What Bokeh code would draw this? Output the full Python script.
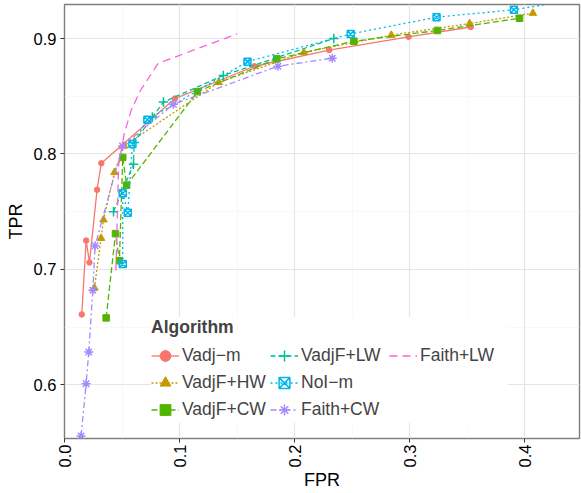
from bokeh.plotting import figure
from bokeh.models import Range1d, SingleIntervalTicker, Legend, LegendItem, PrintfTickFormatter
from bokeh.embed import file_html
from bokeh.resources import INLINE
import math

FONT = "Liberation Sans"

# ---- data ----
algorithms = ["Vadj\u2212m", "VadjF+HW", "VadjF+CW", "VadjF+LW", "NoI\u2212m", "Faith+CW", "Faith+LW"]

vadj_m_fpr = [0.015, 0.0188, 0.0217, 0.0283, 0.032, 0.096, 0.165, 0.230, 0.299, 0.353]
vadj_m_tpr = [0.661, 0.725, 0.706, 0.769, 0.792, 0.848, 0.876, 0.890, 0.9015, 0.910]

vadjf_hw_fpr = [0.026, 0.0318, 0.0339, 0.0434, 0.0518, 0.134, 0.208, 0.284, 0.352, 0.407]
vadjf_hw_tpr = [0.684, 0.727, 0.743, 0.784, 0.807, 0.862, 0.888, 0.903, 0.913, 0.922]

vadjf_cw_fpr = [0.0362, 0.0443, 0.0477, 0.0506, 0.054, 0.1155, 0.1844, 0.2515, 0.324, 0.3954]
vadjf_cw_tpr = [0.658, 0.731, 0.7075, 0.797, 0.773, 0.854, 0.8824, 0.8977, 0.907, 0.9176]

vadjf_lw_fpr = [0.0426, 0.060, 0.0605, 0.0764, 0.086, 0.138, 0.234]
vadjf_lw_tpr = [0.750, 0.791, 0.810, 0.832, 0.845, 0.868, 0.900]

noi_m_fpr = [0.0506, 0.0506, 0.055, 0.059, 0.072, 0.159, 0.2487, 0.3233, 0.3905, 0.46]
noi_m_tpr = [0.7046, 0.766, 0.749, 0.8087, 0.8297, 0.880, 0.904, 0.9185, 0.925, 0.936]

faith_cw_fpr = [0.0144, 0.0188, 0.0211, 0.0246, 0.0266, 0.0504, 0.0946, 0.1855, 0.2327]
faith_cw_tpr = [0.5557, 0.601, 0.6285, 0.682, 0.7205, 0.807, 0.843, 0.876, 0.883]

faith_lw_fpr = [0.0447, 0.047, 0.052, 0.058, 0.066, 0.081, 0.088, 0.150]
faith_lw_tpr = [0.699, 0.790, 0.818, 0.838, 0.855, 0.878, 0.881, 0.904]

x_ticks = [0.0, 0.1, 0.2, 0.3, 0.4]
y_ticks = [0.6, 0.7, 0.8, 0.9]

series = [
    (vadj_m_fpr, vadj_m_tpr, "#F8766D", "solid", "circle", 5.5),
    (vadjf_hw_fpr, vadjf_hw_tpr, "#C49A00", "2 2", "triangle", 7.5),
    (vadjf_cw_fpr, vadjf_cw_tpr, "#53B400", "6 3", "square", 6.5),
    (vadjf_lw_fpr, vadjf_lw_tpr, "#00C094", "5 3", "cross", 9.5),
    (noi_m_fpr, noi_m_tpr, "#00B6EB", "2 3", "square_x", 7),
    (faith_cw_fpr, faith_cw_tpr, "#A58AFF", "6 3 2 3", "asterisk", 9),
    (faith_lw_fpr, faith_lw_tpr, "#FB61D7", "8 5", None, 0),
]

p = figure(width=581, height=493, output_backend="svg", toolbar_location=None,
           x_range=Range1d(0.0, 0.4475), y_range=Range1d(0.5535, 0.9295),
           min_border_left=64, min_border_right=2, min_border_top=4, min_border_bottom=55)

p.background_fill_color = "white"
p.border_fill_color = "white"
p.outline_line_color = "#7F7F7F"
p.outline_line_width = 1.4

xt = SingleIntervalTicker(interval=0.1, num_minor_ticks=2)
yt = SingleIntervalTicker(interval=0.1, num_minor_ticks=2)
p.xaxis.ticker = xt
p.yaxis.ticker = yt
p.xgrid.ticker = xt
p.ygrid.ticker = yt
p.xaxis.formatter = PrintfTickFormatter(format="%.1f")
p.yaxis.formatter = PrintfTickFormatter(format="%.1f")

for g in (p.xgrid, p.ygrid):
    g.grid_line_color = "#E5E5E5"
    g.grid_line_width = 1.2
    g.minor_grid_line_color = "#F5F5F5"
    g.minor_grid_line_width = 0.7

for ax in (p.xaxis, p.yaxis):
    ax.axis_line_color = None
    ax.major_tick_line_color = "#333333"
    ax.major_tick_out = 4
    ax.major_tick_in = 0
    ax.minor_tick_line_color = None
    ax.major_label_text_font = FONT
    ax.major_label_text_font_size = "16.5px"
    ax.major_label_text_color = "black"
    ax.axis_label_text_font = FONT
    ax.axis_label_text_font_size = "18px"
    ax.axis_label_text_font_style = "normal"
    ax.axis_label_text_color = "black"
    ax.major_label_standoff = 4

p.xaxis.axis_label = "FPR"
p.yaxis.axis_label = "TPR"
p.xaxis.major_label_orientation = math.pi / 2
p.xaxis.major_label_standoff = 2
p.xaxis.axis_label_standoff = 0
p.yaxis.axis_label_standoff = 5

items = []
for name, (xs, ys, color, dash, marker, size) in zip(algorithms, series):
    rs = [p.line(xs, ys, line_color=color, line_width=1.3, line_dash=dash)]
    if marker is not None:
        if marker in ("cross", "asterisk", "square_x"):
            rs.append(p.scatter(xs, ys, marker=marker, size=size, line_color=color,
                                fill_color=None, line_width=1.5))
        else:
            rs.append(p.scatter(xs, ys, marker=marker, size=size, line_color=color,
                                fill_color=color, line_width=1))
    items.append(LegendItem(label=name, renderers=rs))

legend = Legend(items=items, location=(87, 15), orientation="vertical", nrows=3)
legend.title = "Algorithm"
legend.title_text_font = FONT
legend.title_text_font_style = "bold"
legend.title_text_font_size = "17.5px"
legend.title_standoff = 4
legend.label_text_font = FONT
legend.label_text_font_size = "17.5px"
legend.glyph_width = 28
legend.glyph_height = 27
legend.label_height = 27
legend.label_width = 88
legend.label_standoff = 3
legend.spacing = 0
legend.margin = 0
legend.padding = 4
legend.border_line_color = None
legend.background_fill_color = "white"
legend.background_fill_alpha = 1.0
p.add_layout(legend)

open("out.html", "w").write(file_html(p, INLINE))
